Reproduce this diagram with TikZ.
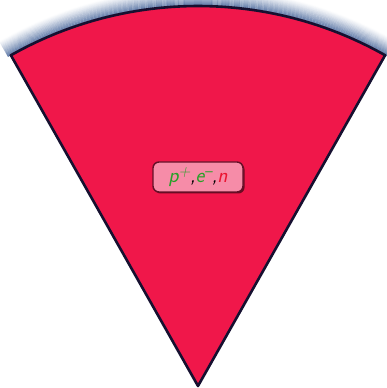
\documentclass[tikz,border=0pt]{standalone}
\usetikzlibrary{shadows}
\definecolor{wedgered}{RGB}{240,23,74}
\definecolor{edgenavy}{RGB}{22,16,48}
\definecolor{glowblue}{RGB}{45,80,140}
\definecolor{labelpink}{RGB}{246,140,168}
\definecolor{labeledge}{RGB}{100,16,40}
\definecolor{labelgreen}{RGB}{40,160,40}
\definecolor{labelred}{RGB}{235,20,50}
\newcommand{\supx}[1]{\raisebox{0.75ex}{\fontsize{16}{16}\selectfont #1}}
\tikzset{
  wedge/.style={fill=wedgered, draw=edgenavy, line width=2.6pt, line join=round},
  labelbox/.style={rounded corners=6pt, fill=labelpink, draw=labeledge, line width=1.4pt,
    minimum width=90pt, minimum height=30pt, inner sep=2pt,
    drop shadow={shadow xshift=1.5pt, shadow yshift=-1.5pt, fill=black, opacity=0.55},
    font=\fontsize{21}{23}\selectfont\sffamily\itshape}
}
\begin{document}
\begin{tikzpicture}[x=1pt,y=1pt]
\useasboundingbox (0,0) rectangle (387,388);
\coordinate (apex) at (198,2);
% glow above the arc
\foreach \i in {1,...,18}{
  \pgfmathsetmacro{\op}{0.8*(1-\i/19)^1.4}
  \draw[glowblue, opacity=\op, line width=1.05pt]
    ([shift={(60:379.5+\i)}]apex) arc[start angle=60, end angle=120, radius=379.5+\i];
}
\draw[wedge] (apex) -- ([shift={(60.5:380)}]apex) arc[start angle=60.5, end angle=119.5, radius=380] -- cycle;
\node[labelbox] (lbl) at (198,211)
  {\textcolor{labelgreen}{p\supx{+}},\textcolor{labelgreen}{e\supx{--}},\textcolor{labelred}{n}};
\end{tikzpicture}
\end{document}
